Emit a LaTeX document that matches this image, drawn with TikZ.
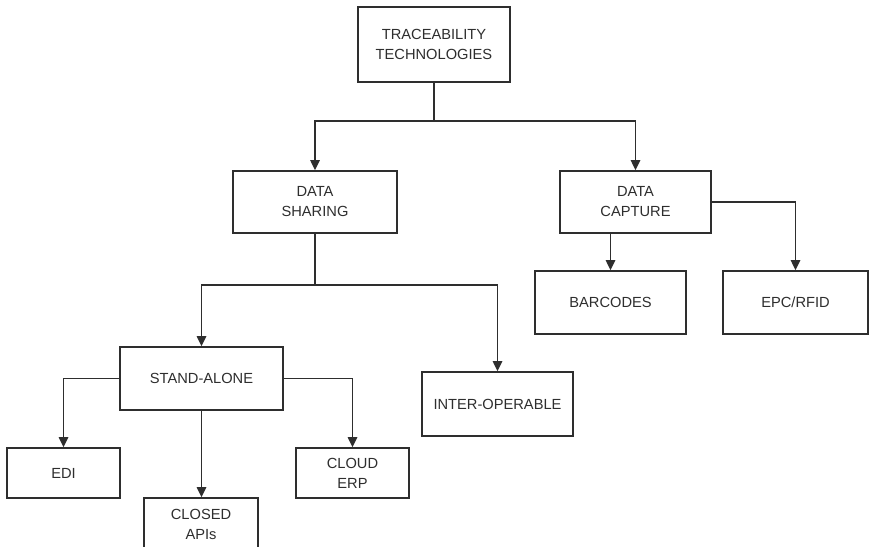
\documentclass[tikz,border=0pt]{standalone}
\usepackage{fontspec}
\setmainfont{Liberation Sans}
\usetikzlibrary{arrows.meta}
\definecolor{ink}{HTML}{2E2E2E}
\begin{document}
\begin{tikzpicture}[x=0.75pt,y=-0.75pt,
  box/.style={draw=ink,line width=1.2pt,fill=white,inner sep=0pt,align=center,
    font=\fontsize{11}{15}\selectfont,text=ink},
  arr/.style={draw=ink,line width=1.2pt,-{Triangle[length=7.5pt,width=7pt]}},
  ln/.style={draw=ink,line width=1.2pt}]
\useasboundingbox (0,0) rectangle (870,546);
\node[box,minimum width=152*0.75pt,minimum height=75*0.75pt] (tt) at (434,44.5) {TRACEABILITY\\TECHNOLOGIES};
\node[box,minimum width=164*0.75pt,minimum height=62*0.75pt] (ds) at (315,202) {DATA\\SHARING};
\node[box,minimum width=151*0.75pt,minimum height=62*0.75pt] (dc) at (635.5,202) {DATA\\CAPTURE};
\node[box,minimum width=163*0.75pt,minimum height=63*0.75pt] (sa) at (201.5,378.5) {STAND-ALONE};
\node[box,minimum width=151*0.75pt,minimum height=64*0.75pt] (io) at (497.5,404) {INTER-OPERABLE};
\node[box,minimum width=151*0.75pt,minimum height=63*0.75pt] (bc) at (610.5,302.5) {BARCODES};
\node[box,minimum width=145*0.75pt,minimum height=63*0.75pt] (epc) at (795.5,302.5) {EPC/RFID};
\node[box,minimum width=113*0.75pt,minimum height=50*0.75pt] (edi) at (63.5,473) {EDI};
\node[box,minimum width=113*0.75pt,minimum height=50*0.75pt] (ce) at (352.5,473) {CLOUD\\ERP};
\node[box,minimum width=114*0.75pt,minimum height=52*0.75pt] (ca) at (201,524) {CLOSED\\APIs};
% connectors
\draw[arr] (tt.south) -- ++(0,38) coordinate (j1) -| (ds.north);
\draw[arr] (j1) -| (dc.north);
\draw[arr] (ds.south) -- ++(0,51) coordinate (j2) -| (sa.north);
\draw[arr] (j2) -| (io.north);
\draw[arr] (sa.west) -| (edi.north);
\draw[arr] (sa.east) -| (ce.north);
\draw[arr] (sa.south) -- (sa.south |- ca.north);
\draw[arr] (dc.east) -| (epc.north);
\draw[arr] (bc.north |- dc.south) -- (bc.north);
\end{tikzpicture}
\end{document}
